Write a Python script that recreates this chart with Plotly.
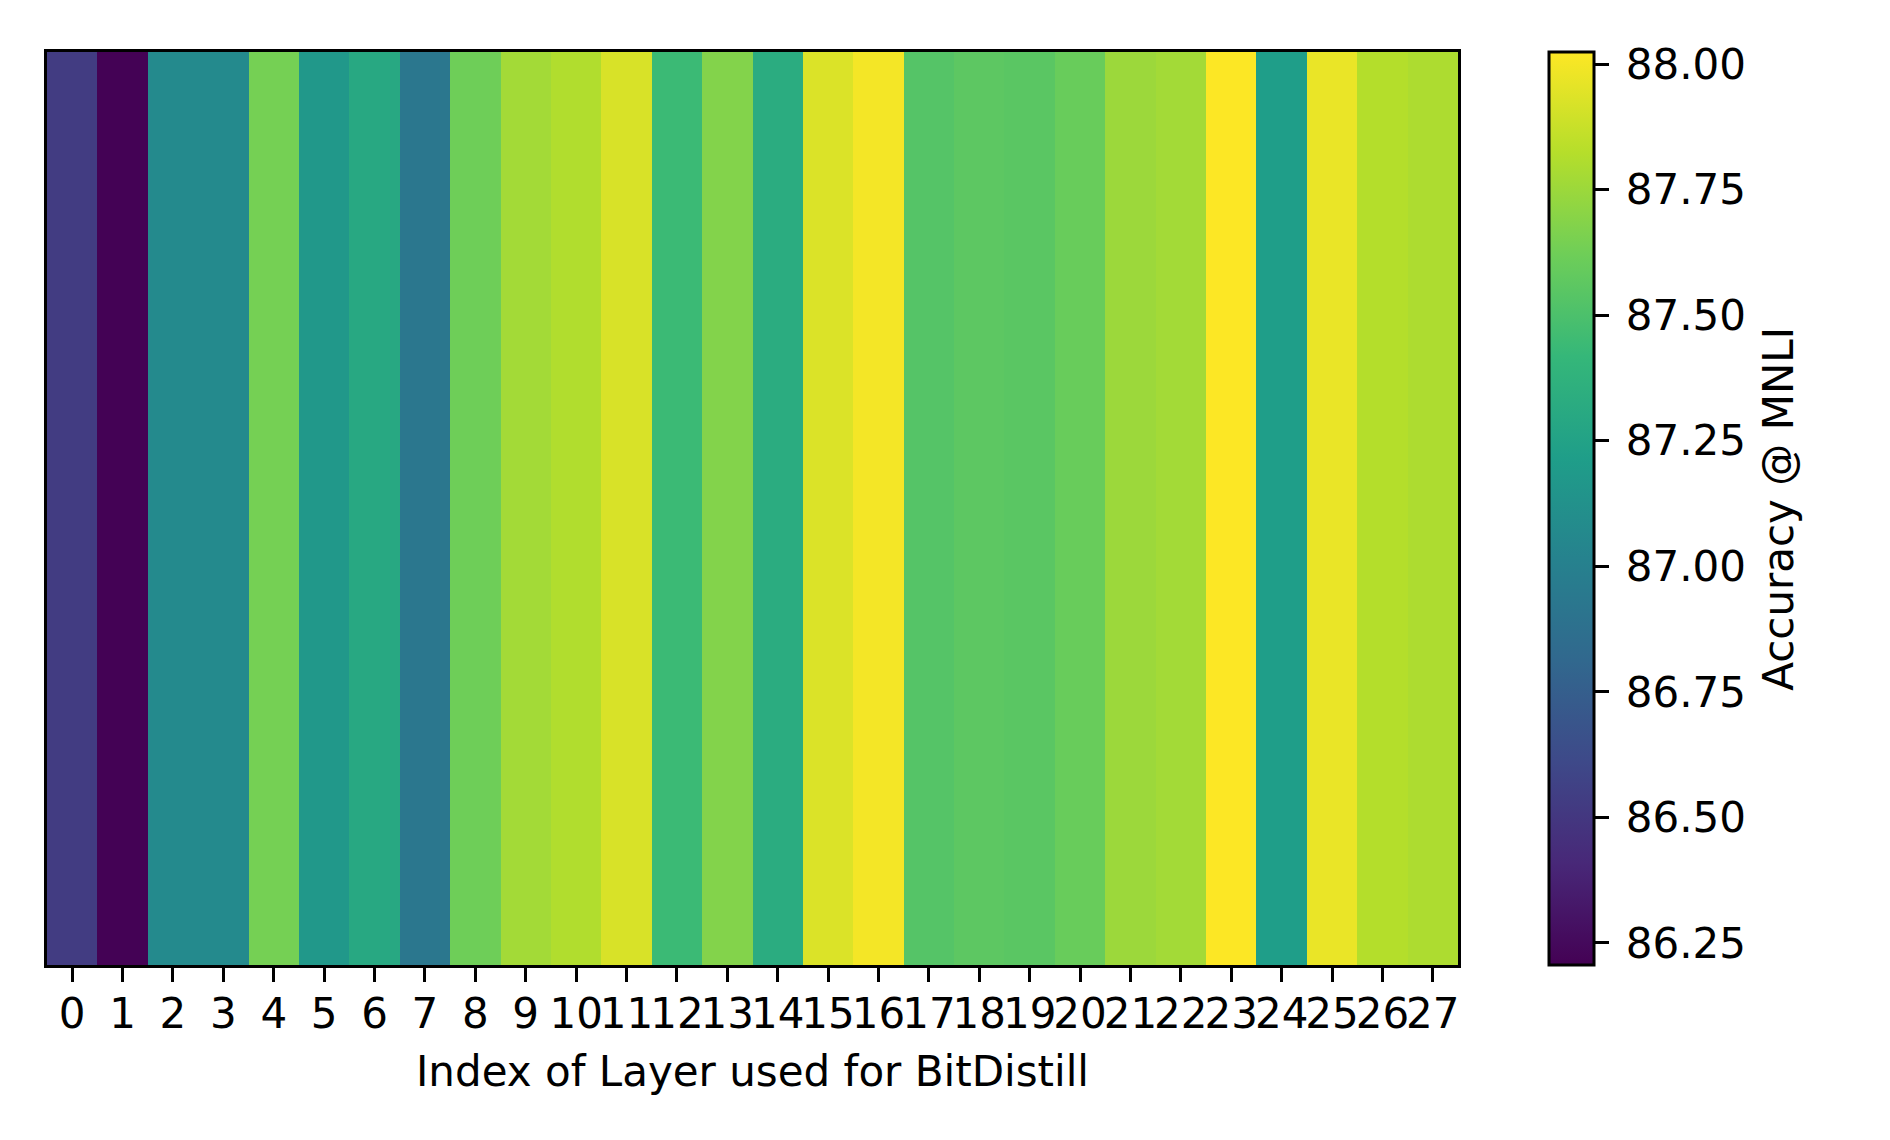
import plotly.graph_objects as go

layers = list(range(28))
layer_labels = [str(i) for i in layers]
accuracy = [86.53, 86.21, 87.07, 87.07, 87.64, 87.17, 87.30, 86.93,
            87.62, 87.77, 87.81, 87.92, 87.44, 87.68, 87.33, 87.93,
            88.00, 87.53, 87.56, 87.55, 87.60, 87.75, 87.77, 88.02,
            87.22, 87.97, 87.82, 87.80]
cbar_ticks = [86.25, 86.50, 86.75, 87.00, 87.25, 87.50, 87.75, 88.00]
cbar_ticktext = ["\u2009%.2f" % v for v in cbar_ticks]

FONT = "DejaVu Sans"
FS = 42

fig = go.Figure(
    go.Heatmap(
        z=[accuracy],
        x=layers,
        y=[0],
        colorscale="Viridis",
        zmin=86.206,
        zmax=88.024,
        colorbar=dict(
            x=1.0645, xanchor="left", xpad=0,
            y=0.5, yanchor="middle", len=1.0, lenmode="fraction", ypad=0,
            thickness=45, thicknessmode="pixels",
            outlinewidth=3, outlinecolor="black",
            tickmode="array", tickvals=cbar_ticks, ticktext=cbar_ticktext,
            ticks="outside", ticklen=14, tickwidth=3, tickcolor="black",
            tickfont=dict(family=FONT, size=FS, color="black"),
        ),
    )
)

fig.add_annotation(
    text="Accuracy @ MNLI", textangle=-90,
    xref="paper", yref="paper", x=1.227, y=0.5,
    xanchor="center", yanchor="middle", showarrow=False,
    font=dict(family=FONT, size=FS, color="black"),
)

fig.update_layout(
    width=1890, height=1140,
    margin=dict(l=39, r=440, t=44, b=183),
    paper_bgcolor="white", plot_bgcolor="white",
    font=dict(family=FONT, size=FS, color="black"),
    xaxis=dict(
        tickmode="array", tickvals=layers, ticktext=layer_labels,
        tickangle=0, ticks="outside", ticklen=14, tickwidth=3, tickcolor="black",
        tickfont=dict(family=FONT, size=FS, color="black"),
        ticklabelstandoff=-4,
        showline=True, linecolor="black", linewidth=3, mirror=True,
        showgrid=False, zeroline=False,
        range=[-0.5, 27.5],
        title=dict(text="Index of Layer used for BitDistill",
                   font=dict(family=FONT, size=FS, color="black"), standoff=20),
    ),
    yaxis=dict(
        showticklabels=False, ticks="", showgrid=False, zeroline=False,
        showline=True, linecolor="black", linewidth=3, mirror=True,
        range=[-0.5, 0.5],
    ),
)

fig.write_html("out.html")
